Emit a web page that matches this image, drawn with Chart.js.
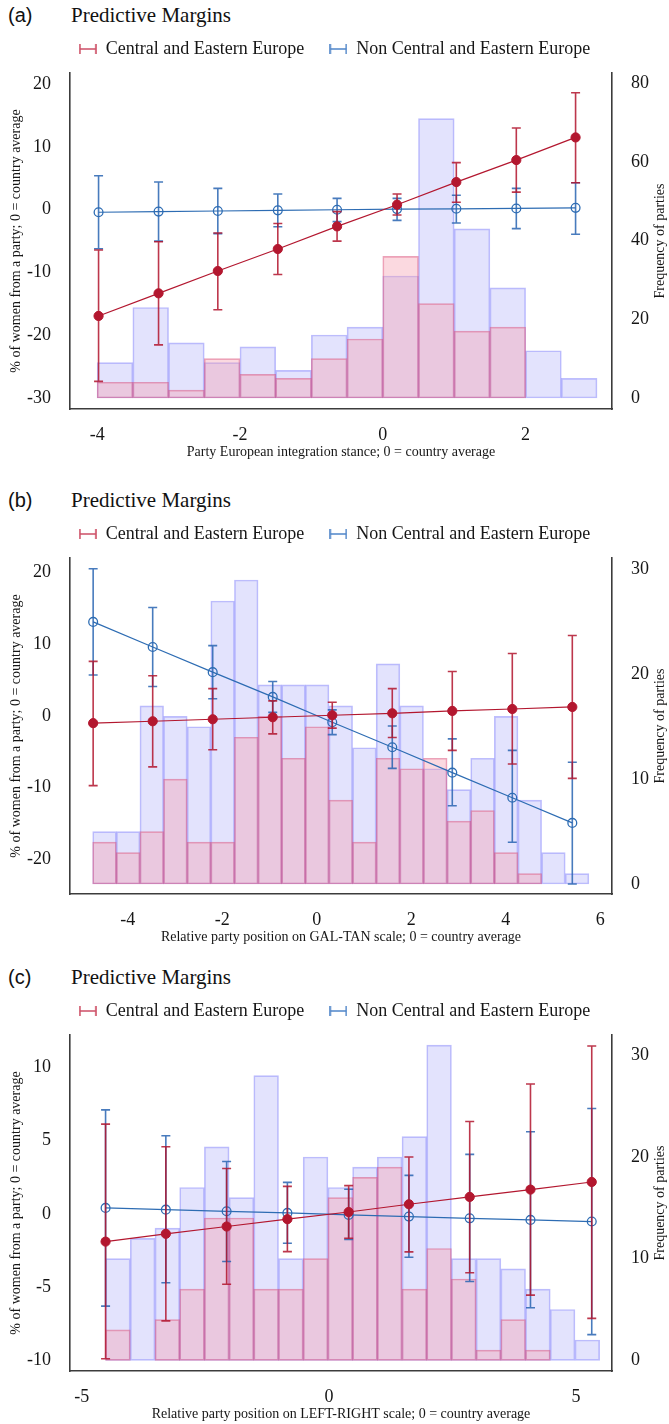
<!DOCTYPE html>
<html>
<head>
<meta charset="utf-8">
<script src="https://cdn.jsdelivr.net/npm/chart.js@4.4.1/dist/chart.umd.min.js"></script>
<style>
  body { margin: 0; background: #fff; width: 669px; height: 1424px; position: relative; overflow: hidden; }
  .panel { position: absolute; left: 0; width: 669px; height: 475px; }
  .tag { position: absolute; left: 8px; top: 3px; font: 20px/24px "Liberation Sans", Arial, sans-serif; color: #111; }
  .ttl { position: absolute; left: 71px; top: 2px; font: 21px/26px "Liberation Serif", "Times New Roman", serif; color: #111; }
  .panel canvas { position: absolute; left: 0; top: 20px; }
</style>
</head>
<body>
<div class="panel" style="top:0px">
  <div class="tag">(a)</div><div class="ttl">Predictive Margins</div>
  <canvas id="chartA" width="669" height="442"></canvas>
</div>
<div class="panel" style="top:485px">
  <div class="tag">(b)</div><div class="ttl">Predictive Margins</div>
  <canvas id="chartB" width="669" height="442"></canvas>
</div>
<div class="panel" style="top:962px">
  <div class="tag">(c)</div><div class="ttl">Predictive Margins</div>
  <canvas id="chartC" width="669" height="442"></canvas>
</div>

<script>
// ---- Panel (a): European integration stance ----
const binsA = [-3.75, -3.25, -2.75, -2.25, -1.75, -1.25, -0.75, -0.25, 0.25, 0.75, 1.25, 1.75, 2.25, 2.75];
const freqCeeA = [4, 4, 2, 10, 6, 5, 10, 15, 36, 24, 17, 18, 0, 0];
const freqNonA = [9, 23, 14, 9, 13, 7, 16, 18, 31, 71, 43, 28, 12, 5];
const xA = [-3.98, -3.14, -2.31, -1.47, -0.64, 0.20, 1.03, 1.87, 2.70];
const ceeA = [-16.9, -13.3, -9.75, -6.25, -2.65, 0.8, 4.4, 7.9, 11.5];
const ceeLoA = [-27.3, -21.5, -15.9, -10.3, -5.0, -0.85, 1.2, 2.8, 4.3];
const ceeHiA = [-6.4, -5.1, -3.7, -2.2, -0.3, 2.5, 7.5, 13.0, 18.6];
const nonA = [-0.4, -0.3, -0.2, -0.1, 0, 0.1, 0.15, 0.2, 0.3];
const nonLoA = [-6.2, -5.0, -3.8, -2.7, -1.9, -1.7, -2.1, -3.0, -3.9];
const nonHiA = [5.4, 4.4, 3.4, 2.5, 1.8, 1.8, 2.3, 3.4, 4.3];
const xTicksA = [-4, -2, 0, 2];
const yTicksA = [-30, -20, -10, 0, 10, 20];
const fTicksA = [0, 20, 40, 60, 80];

// ---- Panel (b): GAL-TAN ----
const binsB = [-4.49, -3.99, -3.49, -2.99, -2.49, -1.99, -1.49, -0.99, -0.49, 0.01, 0.51, 1.01, 1.51, 2.01, 2.51, 3.01, 3.51, 4.01, 4.51, 5.01, 5.51];
const freqCeeB = [4, 3, 5, 10, 4, 4, 14, 16, 12, 15, 8, 4, 12, 11, 12, 6, 7, 3, 1, 0, 0];
const freqNonB = [5, 5, 17, 16, 15, 27, 29, 19, 19, 19, 17, 13, 21, 17, 11, 9, 12, 16, 8, 3, 1];
const xB = [-4.73, -3.47, -2.20, -0.93, 0.33, 1.60, 2.87, 4.14, 5.41];
const ceeB = [-1.0, -0.74, -0.46, -0.18, 0.1, 0.37, 0.7, 0.97, 1.25];
const ceeLoB = [-9.7, -7.1, -4.7, -2.5, -1.7, -3.0, -4.8, -6.7, -8.7];
const ceeHiB = [7.6, 5.6, 3.8, 2.1, 1.9, 3.8, 6.2, 8.7, 11.2];
const nonB = [13.1, 9.6, 6.1, 2.65, -0.88, -4.36, -7.9, -11.4, -14.9];
const nonLoB = [5.7, 4.1, 2.4, 0.5, -2.6, -7.3, -12.5, -17.6, -23.4];
const nonHiB = [20.5, 15.1, 9.8, 4.8, 0.84, -1.4, -3.2, -4.8, -6.45];
const xTicksB = [-4, -2, 0, 2, 4, 6];
const yTicksB = [-20, -10, 0, 10, 20];
const fTicksB = [0, 10, 20, 30];

// ---- Panel (c): LEFT-RIGHT ----
const binsC = [-4.27, -3.77, -3.27, -2.77, -2.27, -1.77, -1.27, -0.77, -0.27, 0.23, 0.73, 1.23, 1.73, 2.23, 2.73, 3.23, 3.73, 4.23, 4.73, 5.23];
const freqCeeC = [3, 0, 4, 7, 14, 14, 7, 7, 10, 16, 18, 19, 7, 11, 8, 1, 4, 1, 0, 0];
const freqNonC = [10, 12, 13, 17, 21, 16, 28, 10, 20, 17, 19, 20, 22, 31, 10, 10, 9, 7, 5, 2];
const xC = [-4.52, -3.30, -2.07, -0.84, 0.40, 1.62, 2.85, 4.08, 5.32];
const ceeC = [-1.89, -1.36, -0.86, -0.36, 0.13, 0.66, 1.16, 1.66, 2.18];
const ceeLoC = [-9.88, -7.3, -4.8, -2.57, -1.66, -2.59, -4.02, -5.54, -7.13];
const ceeHiC = [6.13, 4.58, 3.1, 1.88, 1.93, 3.88, 6.31, 8.87, 11.46];
const nonC = [0.41, 0.29, 0.18, 0.07, -0.07, -0.18, -0.30, -0.41, -0.52];
const nonLoC = [-6.29, -4.7, -3.25, -2.0, -1.75, -2.96, -4.61, -6.4, -8.24];
const nonHiC = [7.1, 5.33, 3.58, 2.15, 1.68, 2.63, 4.06, 5.61, 7.19];
const xTicksC = [-5, 0, 5];
const yTicksC = [-10, -5, 0, 5, 10];
const fTicksC = [0, 10, 20, 30];

const SERIF = '"Liberation Serif", "Times New Roman", serif';
const RED = '#b3172f';
const RED_ERR = 'rgba(178, 20, 45, 0.85)';
const BLUE = '#2d6cb3';
const BLUE_ERR = 'rgba(40, 100, 178, 0.85)';
const AXIS = '#3c3c3c';
const TXT = '#161616';

Chart.defaults.font.family = SERIF;
Chart.defaults.animation = false;

// vertical CI lines with caps, drawn just under each line dataset
const errorBars = {
    id: 'errorBars',
    beforeDatasetDraw(chart, args) {
        const ds = chart.data.datasets[args.index];
        if (!ds.errLow) return;
        const meta = args.meta;
        const ctx = chart.ctx;
        ctx.save();
        ctx.strokeStyle = ds.errColor;
        ctx.lineWidth = 1.6;
        meta.data.forEach((pt, i) => {
            const yHi = meta.vScale.getPixelForValue(ds.errHigh[i]);
            const yLo = meta.vScale.getPixelForValue(ds.errLow[i]);
            ctx.beginPath();
            ctx.moveTo(pt.x, yHi); ctx.lineTo(pt.x, yLo);
            ctx.moveTo(pt.x - 4.5, yHi); ctx.lineTo(pt.x + 4.5, yHi);
            ctx.moveTo(pt.x - 4.5, yLo); ctx.lineTo(pt.x + 4.5, yLo);
            ctx.stroke();
        });
        ctx.restore();
    }
};

// right-hand axis title reads bottom-to-top like the left one
const rightTitle = {
    id: 'rightTitle',
    afterDraw(chart, args, opts) {
        const { ctx, chartArea } = chart;
        ctx.save();
        ctx.translate(opts.x, (chartArea.top + chartArea.bottom) / 2);
        ctx.rotate(-Math.PI / 2);
        ctx.font = '14px ' + SERIF;
        ctx.fillStyle = TXT;
        ctx.textAlign = 'center';
        ctx.textBaseline = 'middle';
        ctx.fillText(opts.text, 0, 0);
        ctx.restore();
    }
};

// nudge the legend row up a little
const liftLegend = {
    id: 'liftLegend',
    afterLayout(chart) {
        if (!chart.legend) return;
        chart.legend.top -= 5;
        chart.legend.bottom -= 5;
    }
};

Chart.register(errorBars, rightTitle, liftLegend);

function errorIcon(color) {
    const c = document.createElement('canvas');
    c.width = 18; c.height = 10;
    const g = c.getContext('2d');
    g.strokeStyle = color;
    g.lineWidth = 1.6;
    g.beginPath();
    g.moveTo(1, 0); g.lineTo(1, 10);
    g.moveTo(17, 0); g.lineTo(17, 10);
    g.moveTo(1, 5); g.lineTo(17, 5);
    g.stroke();
    return c;
}
const icons = [errorIcon('rgba(200, 60, 85, 0.9)'), errorIcon('rgba(60, 120, 195, 0.9)')];

function fixTicks(values) {
    return axis => { axis.ticks = values.map(v => ({ value: v })); };
}

function buildPanel(id, p) {
    const tickFont = { family: SERIF, size: 18 };
    return new Chart(document.getElementById(id), {
        type: 'line',
        data: {
            datasets: [
                {
                    label: 'Central and Eastern Europe',
                    data: p.x.map((x, i) => ({ x, y: p.cee[i] })),
                    errLow: p.ceeLo, errHigh: p.ceeHi, errColor: RED_ERR,
                    borderColor: RED, backgroundColor: RED, borderWidth: 1.2,
                    pointRadius: 4.6, pointBackgroundColor: RED, pointBorderColor: RED, pointBorderWidth: 1,
                    yAxisID: 'y', order: 1
                },
                {
                    label: 'Non Central and Eastern Europe',
                    data: p.x.map((x, i) => ({ x, y: p.non[i] })),
                    errLow: p.nonLo, errHigh: p.nonHi, errColor: BLUE_ERR,
                    borderColor: BLUE, backgroundColor: BLUE, borderWidth: 1.2,
                    pointRadius: 4.4, pointBackgroundColor: 'rgba(0,0,0,0)', pointBorderColor: BLUE, pointBorderWidth: 1.3,
                    yAxisID: 'y', order: 2
                },
                {
                    type: 'bar', label: 'hist CEE',
                    data: p.bins.map((x, i) => ({ x, y: p.freqCee[i] })),
                    backgroundColor: 'rgba(245, 160, 178, 0.40)', borderColor: 'rgba(215, 70, 115, 0.50)',
                    borderWidth: 1, borderSkipped: false, grouped: false,
                    barPercentage: 1, categoryPercentage: 1, yAxisID: 'y2', order: 3
                },
                {
                    type: 'bar', label: 'hist non-CEE',
                    data: p.bins.map((x, i) => ({ x, y: p.freqNon[i] })),
                    backgroundColor: 'rgba(170, 170, 250, 0.33)', borderColor: 'rgba(110, 110, 250, 0.45)',
                    borderWidth: 1, borderSkipped: false, grouped: false,
                    barPercentage: 1, categoryPercentage: 1, yAxisID: 'y2', order: 4
                }
            ]
        },
        options: {
            responsive: false,
            events: [],
            layout: { padding: 0 },
            plugins: {
                title: { display: false },
                tooltip: { enabled: false },
                legend: {
                    position: 'top',
                    align: 'center',
                    labels: {
                        usePointStyle: true,
                        pointStyleWidth: 18,
                        padding: 25,
                        color: TXT,
                        font: { family: SERIF, size: 18 },
                        generateLabels(chart) {
                            const items = Chart.defaults.plugins.legend.labels.generateLabels(chart);
                            return items
                                .filter(it => it.datasetIndex < 2)
                                .map(it => ({ ...it, pointStyle: icons[it.datasetIndex] }));
                        }
                    }
                },
                rightTitle: { x: 660, text: 'Frequency of parties' }
            },
            scales: {
                x: {
                    type: 'linear',
                    min: p.xMin, max: p.xMax,
                    offset: false,
                    grid: { display: false },
                    border: { display: true, color: AXIS, width: 1.6 },
                    ticks: { padding: 7, color: TXT, font: tickFont },
                    afterBuildTicks: fixTicks(p.xTicks),
                    afterFit: ax => { ax.height = 53; },
                    title: {
                        display: true, text: p.xTitle, color: TXT,
                        font: { family: SERIF, size: 14 }, padding: { top: 0, bottom: 1 }
                    }
                },
                y: {
                    position: 'left',
                    min: p.yMin, max: p.yMax,
                    grid: { display: false },
                    border: { display: true, color: AXIS, width: 1.6 },
                    ticks: { padding: 11, color: TXT, font: tickFont },
                    afterBuildTicks: fixTicks(p.yTicks),
                    afterFit: ax => { ax.width = 70; },
                    title: {
                        display: true, text: '% of women from a party; 0 = country average', color: TXT,
                        font: { family: SERIF, size: 14 }, padding: { top: 8, bottom: 0 }
                    }
                },
                y2: {
                    position: 'right',
                    min: p.fMin, max: p.fMax,
                    grid: { display: false },
                    border: { display: true, color: AXIS, width: 1.6 },
                    ticks: { padding: 11, color: TXT, font: tickFont },
                    afterBuildTicks: fixTicks(p.fTicks),
                    afterFit: ax => { ax.width = 57; }
                }
            }
        }
    });
}

buildPanel('chartA', {
    bins: binsA, freqCee: freqCeeA, freqNon: freqNonA,
    x: xA, cee: ceeA, ceeLo: ceeLoA, ceeHi: ceeHiA, non: nonA, nonLo: nonLoA, nonHi: nonHiA,
    xTicks: xTicksA, yTicks: yTicksA, fTicks: fTicksA,
    xMin: -4.38, xMax: 3.21, yMin: -31.7, yMax: 21.75, fMin: -2.8, fMax: 82.6,
    xTitle: 'Party European integration stance; 0 = country average'
});

buildPanel('chartB', {
    bins: binsB, freqCee: freqCeeB, freqNon: freqNonB,
    x: xB, cee: ceeB, ceeLo: ceeLoB, ceeHi: ceeHiB, non: nonB, nonLo: nonLoB, nonHi: nonHiB,
    xTicks: xTicksB, yTicks: yTicksB, fTicks: fTicksB,
    xMin: -5.22, xMax: 6.25, yMin: -24.8, yMax: 22.0, fMin: -0.95, fMax: 31.1,
    xTitle: 'Relative party position on GAL-TAN scale; 0 = country average'
});

buildPanel('chartC', {
    bins: binsC, freqCee: freqCeeC, freqNon: freqNonC,
    x: xC, cee: ceeC, ceeLo: ceeLoC, ceeHi: ceeHiC, non: nonC, nonLo: nonLoC, nonHi: nonHiC,
    xTicks: xTicksC, yTicks: yTicksC, fTicks: fTicksC,
    xMin: -5.24, xMax: 5.73, yMin: -10.72, yMax: 12.21, fMin: -1.05, fMax: 32.0,
    xTitle: 'Relative party position on LEFT-RIGHT scale; 0 = country average'
});
</script>
</body>
</html>
